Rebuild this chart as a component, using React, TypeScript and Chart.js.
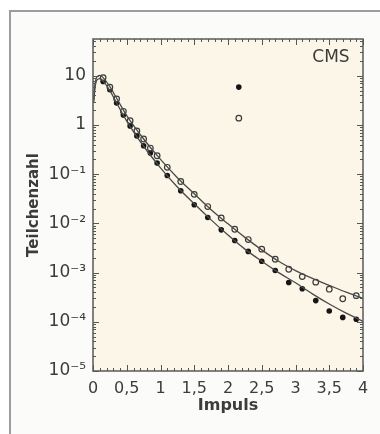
import { useEffect, useRef } from 'react';
import { Chart, registerables } from 'chart.js';

Chart.register(...registerables);

// Measured points (x: Impuls, y: Teilchenzahl)
const pointX = [0.15, 0.25, 0.35, 0.45, 0.55, 0.65, 0.75, 0.85, 0.95, 1.1, 1.3, 1.5, 1.7, 1.9, 2.1, 2.3, 2.5, 2.7, 2.9, 3.1, 3.3, 3.5, 3.7, 3.9];
const openY = [9.2, 5.9, 3.4, 1.9, 1.22, 0.76, 0.52, 0.34, 0.237, 0.138, 0.071, 0.039, 0.022, 0.0129, 0.0076, 0.0047, 0.003, 0.00187, 0.00117, 0.00083, 0.00064, 0.00046, 0.000294, 0.00034];
const filledY = [7.7, 5.2, 2.8, 1.6, 0.96, 0.6, 0.38, 0.27, 0.168, 0.094, 0.046, 0.024, 0.0132, 0.0074, 0.0045, 0.0027, 0.0017, 0.0011, 0.00063, 0.00047, 0.00027, 0.000166, 0.000123, 0.000113];

// Fit curves
const curveX = [0.01, 0.03, 0.06, 0.1, 0.15, 0.25, 0.35, 0.5, 0.75, 1.0, 1.25, 1.5, 1.75, 2.0, 2.25, 2.5, 2.75, 3.0, 3.25, 3.5, 3.75, 4.0];
const upperCurveY = [3.2, 6.8, 9.6, 10.2, 9.2, 6.0, 3.5, 1.55, 0.52, 0.2, 0.085, 0.04, 0.019, 0.0098, 0.0052, 0.0029, 0.0017, 0.0011, 0.00076, 0.00055, 0.0004, 0.0003];
const lowerCurveY = [2.8, 5.8, 8.3, 8.8, 7.8, 5.0, 2.8, 1.2, 0.37, 0.135, 0.055, 0.025, 0.0118, 0.0058, 0.003, 0.0017, 0.001, 0.00062, 0.00037, 0.00023, 0.00015, 0.000102];

// Legend markers
const keyX = [2.16];
const keyFilledY = [5.9];
const keyOpenY = [1.38];

// Axis ticks
const xTickValues = [0, 0.5, 1, 1.5, 2, 2.5, 3, 3.5, 4];
const yDecades = [-5, -4, -3, -2, -1, 0, 1];
const yDecadeLabels = ['10⁻⁵', '10⁻⁴', '10⁻³', '10⁻²', '10⁻¹', '1', '10'];

const TEXT = '#3c3c3c';
const FONT = '"DejaVu Sans", sans-serif';

function pts(xs: number[], ys: number[]) {
  return xs.map((x, i) => ({ x, y: ys[i] }));
}

export default function App() {
  const ref = useRef<HTMLCanvasElement>(null);

  useEffect(() => {
    document.body.style.margin = '0';
    const canvas = ref.current!;

    const decorPlugin = {
      id: 'decor',
      beforeDraw(chart: any) {
        const { ctx, chartArea: a } = chart;
        ctx.save();
        ctx.fillStyle = '#ffffff';
        ctx.fillRect(0, 0, chart.width, chart.height);
        ctx.fillStyle = '#fbfbfa';
        ctx.fillRect(11, 12, chart.width, chart.height);
        ctx.strokeStyle = '#9c9c9c';
        ctx.lineWidth = 2;
        ctx.beginPath();
        ctx.moveTo(10, chart.height + 2);
        ctx.lineTo(10, 11);
        ctx.lineTo(chart.width + 2, 11);
        ctx.stroke();
        ctx.fillStyle = '#fbf6e7';
        ctx.fillRect(a.left, a.top, a.right - a.left, a.bottom - a.top);
        ctx.restore();
      },
      afterDraw(chart: any) {
        const { ctx, chartArea: a } = chart;
        const xs = chart.scales.x;
        const ys = chart.scales.y;
        ctx.save();
        ctx.strokeStyle = '#555';
        ctx.lineWidth = 1;
        // ticks on x axis (bottom + top), inward
        for (let i = 0; i <= 40; i++) {
          const v = i / 10;
          const px = Math.round(xs.getPixelForValue(v)) + 0.5;
          const len = i % 5 === 0 ? 6 : 3;
          ctx.beginPath();
          ctx.moveTo(px, a.bottom);
          ctx.lineTo(px, a.bottom - len);
          ctx.moveTo(px, a.top);
          ctx.lineTo(px, a.top + len);
          ctx.stroke();
        }
        // ticks on y axis (left + right), inward
        for (const e of yDecades) {
          for (let m = 1; m <= 9; m++) {
            const v = m * Math.pow(10, e);
            if (v < ys.min * 0.999 || v > ys.max) continue;
            const py = Math.round(ys.getPixelForValue(v)) + 0.5;
            const len = m === 1 ? 6 : 3;
            ctx.beginPath();
            ctx.moveTo(a.left, py);
            ctx.lineTo(a.left + len, py);
            ctx.moveTo(a.right, py);
            ctx.lineTo(a.right - len, py);
            ctx.stroke();
          }
        }
        // frame
        ctx.strokeStyle = '#5a5a5a';
        ctx.lineWidth = 1.5;
        ctx.strokeRect(a.left, a.top, a.right - a.left, a.bottom - a.top);

        // texts
        ctx.fillStyle = TEXT;
        ctx.textAlign = 'center';
        ctx.textBaseline = 'middle';
        ctx.font = `17px ${FONT}`;
        ctx.fillText('CMS', 331, 58);
        ctx.font = `bold 16px ${FONT}`;
        ctx.fillText('Impuls', (a.left + a.right) / 2, 406);
        ctx.font = `bold 15px ${FONT}`;
        ctx.translate(34, (a.top + a.bottom) / 2);
        ctx.rotate(-Math.PI / 2);
        ctx.fillText('Teilchenzahl', 0, 0);
        ctx.restore();
      },
    };

    const chart = new Chart(canvas, {
      type: 'scatter',
      data: {
        datasets: [
          {
            data: pts(curveX, upperCurveY),
            showLine: true,
            borderColor: '#4a4a4a',
            borderWidth: 1.3,
            pointRadius: 0,
            cubicInterpolationMode: 'monotone',
          },
          {
            data: pts(curveX, lowerCurveY),
            showLine: true,
            borderColor: '#4a4a4a',
            borderWidth: 1.3,
            pointRadius: 0,
            cubicInterpolationMode: 'monotone',
          },
          {
            data: pts(pointX, openY),
            pointRadius: 2.8,
            pointBorderWidth: 1.2,
            borderColor: '#3a3a3a',
            backgroundColor: '#fbf6e7',
          },
          {
            data: pts(pointX, filledY),
            pointRadius: 2.8,
            pointBorderWidth: 0,
            borderColor: '#151515',
            backgroundColor: '#151515',
          },
          {
            data: pts(keyX, keyFilledY),
            pointRadius: 2.8,
            pointBorderWidth: 0,
            borderColor: '#151515',
            backgroundColor: '#151515',
          },
          {
            data: pts(keyX, keyOpenY),
            pointRadius: 2.8,
            pointBorderWidth: 1.2,
            borderColor: '#3a3a3a',
            backgroundColor: '#fbf6e7',
          },
        ],
      } as any,
      options: {
        responsive: false,
        animation: false,
        layout: { padding: { left: 0, top: 39, right: 17, bottom: 0 } },
        plugins: { legend: { display: false }, tooltip: { enabled: false } },
        scales: {
          x: {
            type: 'linear',
            min: 0,
            max: 4,
            afterFit: (s: any) => { s.height = 63; },
            afterBuildTicks: (s: any) => { s.ticks = xTickValues.map((v) => ({ value: v })); },
            grid: { display: false, drawTicks: false },
            border: { display: false },
            ticks: {
              padding: 8,
              color: TEXT,
              font: { family: FONT, size: 16 },
              maxRotation: 0,
              autoSkip: false,
              callback: (v: any) => String(v).replace('.', ','),
            },
          },
          y: {
            type: 'logarithmic',
            min: 1e-5,
            max: 56,
            afterFit: (s: any) => { s.width = 93; },
            afterBuildTicks: (s: any) => { s.ticks = yDecades.map((e) => ({ value: Math.pow(10, e) })); },
            grid: { display: false, drawTicks: false },
            border: { display: false },
            ticks: {
              padding: 7,
              color: TEXT,
              font: { family: FONT, size: 17 },
              autoSkip: false,
              callback: (v: any) => {
                const e = Math.round(Math.log10(v));
                const idx = yDecades.indexOf(e);
                return idx >= 0 ? yDecadeLabels[idx] : '';
              },
            },
          },
        },
      },
      plugins: [decorPlugin],
    });
    return () => chart.destroy();
  }, []);

  return <canvas ref={ref} width={380} height={434} style={{ display: 'block' }} />;
}
